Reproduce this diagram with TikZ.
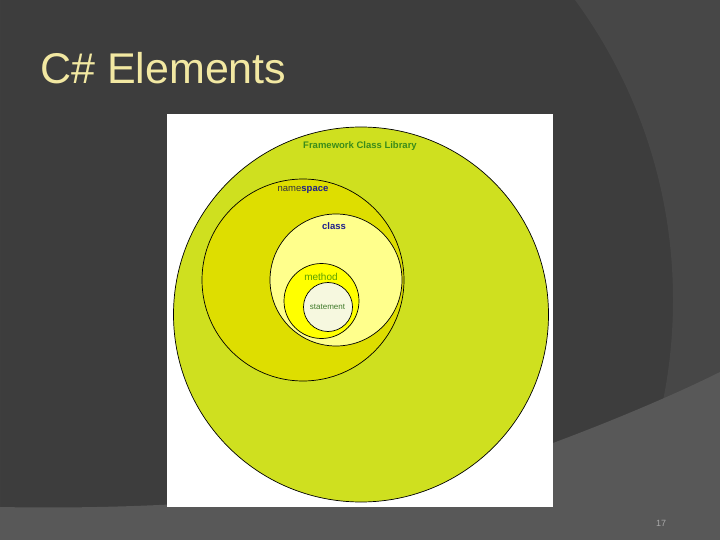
\documentclass[tikz,border=0pt]{standalone}
\usepackage{fontspec}
\setmainfont{Liberation Sans}
\definecolor{bgbase}{HTML}{3D3D3D}
\definecolor{bgright}{HTML}{474747}
\definecolor{bgband}{HTML}{585858}
\definecolor{titlecol}{HTML}{F2E8A2}
\definecolor{pagecol}{HTML}{A8A8A8}
\definecolor{fclfill}{HTML}{CFE01F}
\definecolor{nsfill}{HTML}{DEDE00}
\definecolor{clfill}{HTML}{FFFF8C}
\definecolor{mefill}{HTML}{FFFF00}
\definecolor{stfill}{HTML}{F6F8DF}
\definecolor{fcltext}{HTML}{3A8C1A}
\definecolor{darkblue}{HTML}{1E1E8C}
\definecolor{darkgraytext}{HTML}{33333D}
\definecolor{methodtext}{HTML}{5AA000}
\definecolor{stmttext}{HTML}{3F7A2A}
\tikzset{
  ring/.style={circle, draw=black, line width=0.7pt, inner sep=0pt},
  lbl/.style={inner sep=0pt, anchor=center},
}
\begin{document}
\begin{tikzpicture}[x=1pt,y=-1pt]
\useasboundingbox (0,0) rectangle (720,540);
% background
\fill[bgbase] (0,0) rectangle (720,540);
\begin{scope}
  \clip (0,0) rectangle (720,540);
  \fill[bgright, even odd rule] (0,-10) rectangle (730,550) (165,300) circle[radius=508];
\end{scope}
\fill[bgband] (0,540) -- (0,507) .. controls (200,511) and (420,490) .. (553,443)
  .. controls (620,418) and (680,392) .. (720,372) -- (720,540) -- cycle;
% title
\node[anchor=base west, inner sep=0pt, text=titlecol, font=\fontsize{43}{43}\selectfont] (title) at (40,84) {C\# Elements};
% page number
\node[anchor=center, inner sep=0pt, text=pagecol, font=\fontsize{9}{9}\selectfont] (page) at (661,523) {17};
% white image area
\fill[white] (167,114) rectangle (553,507);
% circles
\node[ring, fill=fclfill, minimum size=375pt] (fcl) at (361,314.5) {};
\node[ring, fill=nsfill, minimum size=202pt] (ns) at (303,280) {};
\node[ring, fill=clfill, minimum size=132pt] (cl) at (336,280) {};
\node[ring, fill=mefill, minimum size=75pt] (me) at (321.5,301) {};
\node[ring, fill=stfill, minimum size=49pt] (st) at (328,307) {};
% labels
\node[lbl, text=fcltext, font=\fontsize{9.5}{9.5}\selectfont\bfseries] (fcllbl) at (360,146) {Framework Class Library};
\node[lbl, font=\fontsize{9.5}{9.5}\selectfont] (nslbl) at (303,190) {\textcolor{darkgraytext}{name}\textcolor{darkblue}{\bfseries space}};
\node[lbl, text=darkblue, font=\fontsize{9.5}{9.5}\selectfont\bfseries] (cllbl) at (334,226) {class};
\node[lbl, text=methodtext, font=\fontsize{10}{10}\selectfont] (melbl) at (321,277) {method};
\node[lbl, text=stmttext, font=\fontsize{8}{8}\selectfont] (stlbl) at (327.5,307) {statement};
\end{tikzpicture}
\end{document}
